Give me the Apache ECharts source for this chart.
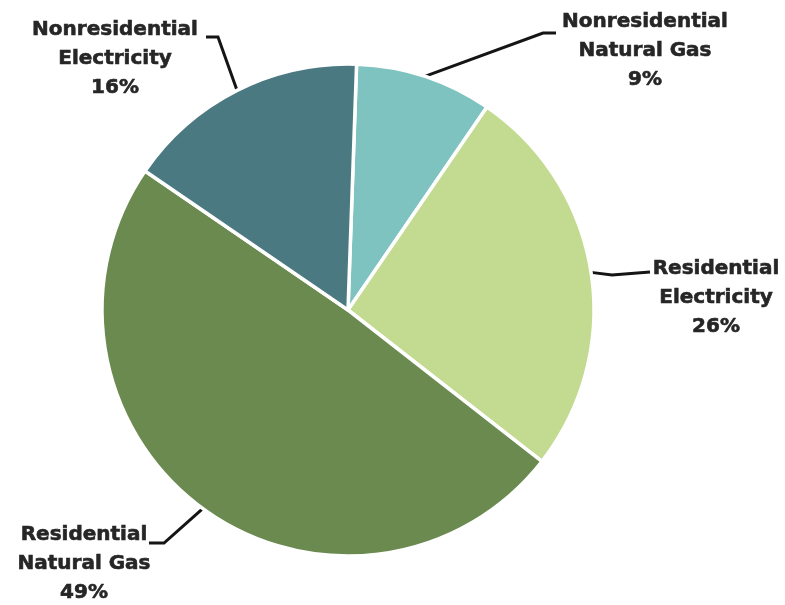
<!DOCTYPE html>
<html>
<head>
<meta charset="utf-8">
<script src="https://cdn.jsdelivr.net/npm/echarts@6/dist/echarts.min.js"></script>
<style>
  html, body { margin: 0; padding: 0; background: #ffffff; }
  #chart { width: 785px; height: 605px; }
</style>
</head>
<body>
<div id="chart"></div>
<script>
// Energy use shares by sector and fuel (percent)
const categories = [
  'Nonresidential\nNatural Gas',
  'Residential\nElectricity',
  'Residential\nNatural Gas',
  'Nonresidential\nElectricity'
];
const shares = [9, 26, 49, 16];
const sliceColors = ['#7fc3c1', '#c2db90', '#6a8a4f', '#4b7981'];

// Label block centres and leader-line bends (elbow, end) in pixels
const labelCentres = [[645, 51], [716, 298], [84, 564], [115, 59]];
const leaderBends = [
  [[543, 33], [556, 33]],
  [[612, 275], [650, 272]],
  [[164, 543], [149, 543]],
  [[218, 37], [206, 37]]
];

const chart = echarts.init(document.getElementById('chart'), null, { renderer: 'canvas' });

chart.setOption({
  backgroundColor: '#ffffff',
  animation: false,
  series: [{
    type: 'pie',
    center: [348, 310],
    radius: [0, 246],
    startAngle: 88,
    clockwise: true,
    data: categories.map((name, i) => ({
      name,
      value: shares[i],
      itemStyle: { color: sliceColors[i] }
    })),
    itemStyle: { borderColor: '#ffffff', borderWidth: 3.5 },
    label: {
      show: true,
      position: 'outside',
      formatter: p => p.name + '\n' + p.value + '%',
      fontFamily: 'DejaVu Sans',
      fontWeight: 'bold',
      fontSize: 20,
      lineHeight: 29,
      color: '#262626',
      textBorderColor: '#262626',
      textBorderWidth: 0.6,
      align: 'center'
    },
    labelLine: {
      show: true,
      length: 20,
      length2: 10,
      lineStyle: { color: '#151515', width: 3 }
    },
    labelLayout: function (params) {
      const i = params.dataIndex;
      const c = labelCentres[i];
      const start = params.labelLinePoints ? params.labelLinePoints[0] : null;
      const out = {
        x: c[0],
        y: c[1],
        align: 'center',
        verticalAlign: 'middle'
      };
      if (start) {
        out.labelLinePoints = [start, leaderBends[i][0], leaderBends[i][1]];
      }
      return out;
    }
  }]
});
</script>
</body>
</html>
